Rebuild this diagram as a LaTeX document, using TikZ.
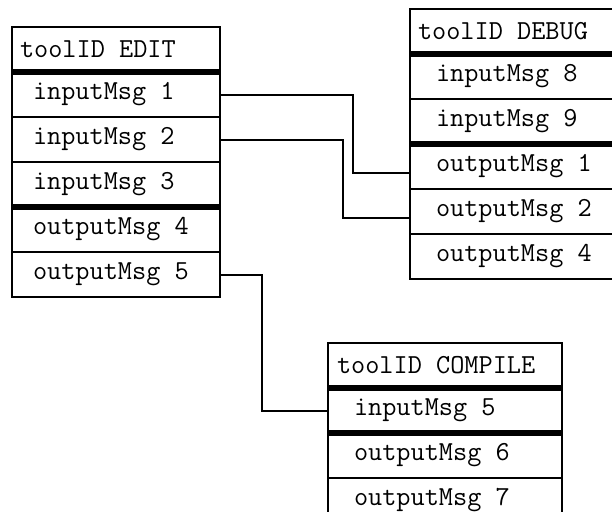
\documentclass[tikz,border=0pt]{standalone}
\usepackage{fontspec}
\usepackage{tikz}
\usetikzlibrary{positioning}

\tikzset{
	cell/.style={draw,line width=2.2pt,rectangle,outer sep=0pt,inner ysep=0pt,minimum height=45pt,align=flush left,font=\ttfamily\fontsize{27.5}{30}\selectfont},
	sep/.style={line width=5.5pt},
	wire/.style={line width=2pt}
}

\begin{document}
\begin{tikzpicture}[x=1pt,y=1pt]
	\useasboundingbox (0,0) rectangle (612,-511);
	% EDIT
	\node[cell,anchor=north west,inner xsep=8pt,text width=192pt] (eh) at (12,-27) {toolID EDIT};
	\node[cell,below=0pt of eh,inner xsep=21pt,text width=166pt] (e1) {inputMsg 1};
	\node[cell,below=0pt of e1,inner xsep=21pt,text width=166pt] (e2) {inputMsg 2};
	\node[cell,below=0pt of e2,inner xsep=21pt,text width=166pt] (e3) {inputMsg 3};
	\node[cell,below=0pt of e3,inner xsep=21pt,text width=166pt] (e4) {outputMsg 4};
	\node[cell,below=0pt of e4,inner xsep=21pt,text width=166pt] (e5) {outputMsg 5};
	% DEBUG
	\node[cell,anchor=north west,inner xsep=8pt,text width=199pt] (dh) at (410,-9) {toolID DEBUG};
	\node[cell,below=0pt of dh,inner xsep=26pt,text width=163pt] (d1) {inputMsg 8};
	\node[cell,below=0pt of d1,inner xsep=26pt,text width=163pt] (d2) {inputMsg 9};
	\node[cell,below=0pt of d2,inner xsep=26pt,text width=163pt] (d3) {outputMsg 1};
	\node[cell,below=0pt of d3,inner xsep=26pt,text width=163pt] (d4) {outputMsg 2};
	\node[cell,below=0pt of d4,inner xsep=26pt,text width=163pt] (d5) {outputMsg 4};
	% COMPILE
	\node[cell,anchor=north west,inner xsep=9pt,text width=216pt] (ch) at (328,-343) {toolID COMPILE};
	\node[cell,below=0pt of ch,inner xsep=26pt,text width=182pt] (c1) {inputMsg 5};
	\node[cell,below=0pt of c1,inner xsep=26pt,text width=182pt] (c2) {outputMsg 6};
	\node[cell,below=0pt of c2,inner xsep=26pt,text width=182pt] (c3) {outputMsg 7};
	\foreach \n in {eh,e3,dh,d2,ch,c1}
		\draw[sep] (\n.south west) -- (\n.south east);
	\draw[wire] (e1.east) -- ++(133,0) |- ([yshift=-6pt]d3.west);
	\draw[wire] (e2.east) -- ++(123,0) |- ([yshift=-6pt]d4.west);
	\draw[wire] (e5.east) -- ++(42,0) |- (c1.west);
\end{tikzpicture}
\end{document}
